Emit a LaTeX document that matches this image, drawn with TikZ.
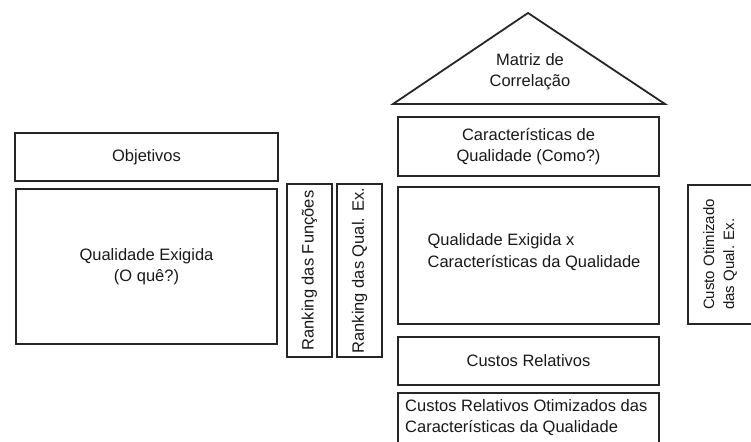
\documentclass[tikz,border=0pt]{standalone}
\usepackage{fontspec}
\setmainfont{Liberation Sans}
\begin{document}
\begin{tikzpicture}[x=1pt,y=-1pt,
  box/.style={draw=black!85, line width=1.8pt, fill=white, inner sep=0pt, text=black!90,
    font=\fontsize{16.5}{21.5}\selectfont, align=center},
  lbl/.style={inner sep=0pt, text=black!90, font=\fontsize{16.5}{21.5}\selectfont}]
\useasboundingbox (0,0) rectangle (751,441);
\clip (0,0) rectangle (751,441);
\node[box, minimum width=263pt, minimum height=48pt] (obj) at (146.5,157) {Objetivos};
\node[box, minimum width=261pt, minimum height=155pt] (qe) at (146.5,266.5) {Qualidade Exigida\\(O quê?)};
\node[box, rotate=90, minimum width=173pt, minimum height=45pt] (rf) at (309.5,270.5) {Ranking das Funções};
\node[box, rotate=90, minimum width=173pt, minimum height=45pt] (rq) at (359.5,270.5) {Ranking das Qual. Ex.};
\coordinate (tA) at (528,13);
\coordinate (tL) at (393,104);
\coordinate (tR) at (665,104);
\draw[black!85, line width=1.8pt, line join=miter] (tA) -- (tL) -- (tR) -- cycle;
\node[lbl, align=center] (mc) at (530,72) {Matriz de\\Correlação};
\node[box, minimum width=261pt, minimum height=59pt] (car) at (528.5,146.5) {Características de\\Qualidade (Como?)};
\node[box, minimum width=261pt, minimum height=137pt] (mat) at (528.5,255.5) {};
\node[lbl, align=left] (matt) at (534,252) {Qualidade Exigida x\\Características da Qualidade};
\node[box, minimum width=261pt, minimum height=48pt] (cr) at (528.5,361) {Custos Relativos};
\node[box, minimum width=261pt, minimum height=62pt] (cro) at (528.5,424) {};
\node[lbl, align=left, anchor=north west] (crot) at (405,399) {Custos Relativos Otimizados das\\Características da Qualidade};
\node[box, rotate=90, minimum width=139pt, minimum height=64pt, align=left,
  font=\fontsize{15}{20}\selectfont] (co) at (720,254.5) {Custo Otimizado\\das Qual. Ex.};
\end{tikzpicture}
\end{document}
